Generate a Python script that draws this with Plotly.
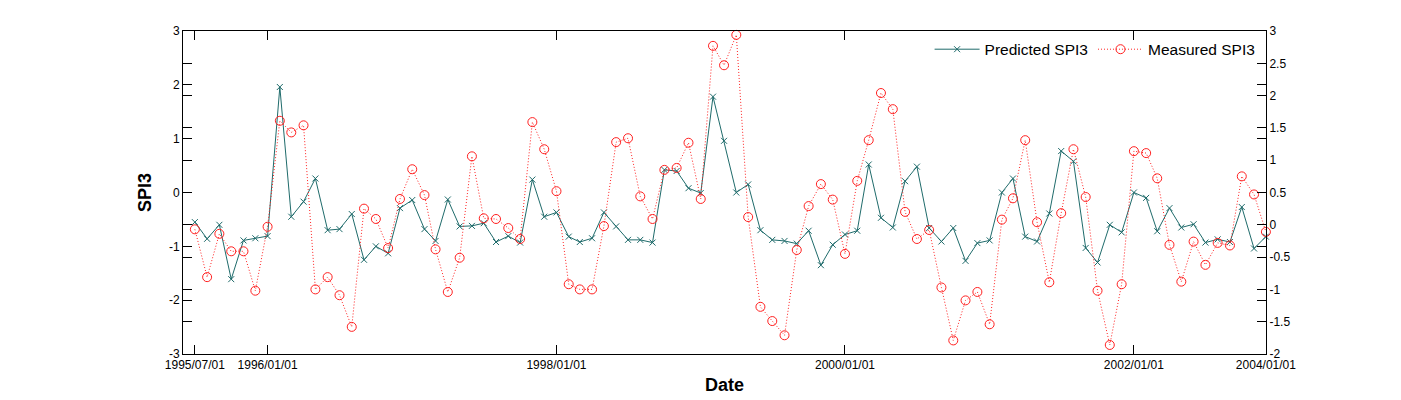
import pandas as pd
import plotly.graph_objects as go

# Monthly dates (category axis)
dates = pd.date_range("1995-07-01", periods=90, freq="MS")

predicted_spi3 = [
    -0.55, -0.86, -0.60, -1.61, -0.89, -0.85, -0.81, 1.96, -0.45, -0.17,
    0.26, -0.70, -0.68, -0.40, -1.25, -1.00, -1.13, -0.29, -0.14, -0.68,
    -0.90, -0.13, -0.63, -0.62, -0.57, -0.92, -0.81, -0.93, 0.24, -0.45,
    -0.37, -0.82, -0.92, -0.85, -0.37, -0.63, -0.88, -0.88, -0.93, 0.42,
    0.40, 0.08, -0.01, 1.78, 0.96, 0.00, 0.15, -0.70, -0.88, -0.90,
    -0.95, -0.71, -1.35, -0.97, -0.78, -0.71, 0.52, -0.47, -0.65, 0.21,
    0.48, -0.66, -0.91, -0.66, -1.27, -0.94, -0.89, 0.00, 0.26, -0.82,
    -0.91, -0.39, 0.77, 0.58, -1.03, -1.30, -0.60, -0.74, 0.00, -0.10,
    -0.72, -0.29, -0.65, -0.59, -0.93, -0.87, -0.92, -0.27, -1.04, -0.82,
]

measured_spi3 = [
    -0.07, -0.81, -0.14, -0.41, -0.41, -1.02, -0.03, 1.61, 1.43, 1.54,
    -1.00, -0.81, -1.09, -1.58, 0.25, 0.09, -0.36, 0.40, 0.86, 0.46,
    -0.38, -1.04, -0.51, 1.06, 0.10, 0.09, -0.05, -0.22, 1.59, 1.17,
    0.52, -0.92, -1.00, -1.00, -0.02, 1.28, 1.34, 0.44, 0.09, 0.85,
    0.88, 1.27, 0.40, 2.77, 2.47, 2.94, 0.12, -1.27, -1.49, -1.71,
    -0.39, 0.29, 0.63, 0.39, -0.45, 0.68, 1.31, 2.04, 1.79, 0.20,
    -0.22, -0.08, -0.97, -1.79, -1.17, -1.04, -1.54, 0.08, 0.41, 1.31,
    0.04, -0.89, 0.18, 1.17, 0.43, -1.02, -1.86, -0.92, 1.14, 1.11,
    0.72, -0.31, -0.88, -0.26, -0.62, -0.28, -0.32, 0.75, 0.47, -0.11,
]

x_tick_vals = ["1995-07-01", "1996-01-01", "1998-01-01", "2000-01-01", "2002-01-01", "2002-12-01"]
x_tick_text = ["1995/07/01", "1996/01/01", "1998/01/01", "2000/01/01", "2002/01/01", "2004/01/01"]

y1_tick_vals = [-3, -2, -1, 0, 1, 2, 3]
y1_tick_text = ["-3", "-2", "-1", "0", "1", "2", "3"]
y2_tick_vals = [-2, -1.5, -1, -0.5, 0, 0.5, 1, 1.5, 2, 2.5, 3]
y2_tick_text = ["-2", "-1.5", "-1", "-0.5", "0", "0.5", "1", "1.5", "2", "2.5", "3"]

FONT = "Liberation Sans, Arial, sans-serif"
TEAL = "#1f6b6b"
RED = "#ff2020"

fig = go.Figure()
fig.add_trace(go.Scatter(
    x=dates, y=predicted_spi3, name="Predicted SPI3", mode="lines+markers",
    line=dict(color=TEAL, width=1),
    marker=dict(symbol="x-thin-open", size=6, line=dict(color=TEAL, width=1), color=TEAL),
    cliponaxis=False, yaxis="y",
))
fig.add_trace(go.Scatter(
    x=dates, y=measured_spi3, name="Measured SPI3", mode="lines+markers",
    line=dict(color=RED, width=1, dash="1px,2px"),
    marker=dict(symbol="circle-open", size=9, line=dict(color=RED, width=1), color=RED),
    cliponaxis=False, yaxis="y2",
))

axis_common = dict(
    showline=True, linecolor="black", linewidth=1, mirror="ticks",
    ticks="inside", ticklen=9, tickcolor="black", tickwidth=1,
    showgrid=False, zeroline=False,
    tickfont=dict(family=FONT, size=12, color="black"),
)

fig.update_layout(
    width=1401, height=400,
    margin=dict(l=183, r=135, t=31, b=46, autoexpand=False),
    paper_bgcolor="white", plot_bgcolor="white",
    font=dict(family=FONT, color="black"),
    showlegend=True,
    legend=dict(
        orientation="h", x=0.995, xanchor="right", y=0.995, yanchor="top",
        bgcolor="rgba(255,255,255,0)", borderwidth=0,
        font=dict(family=FONT, size=15.5, color="black"),
        itemwidth=45,
    ),
    xaxis=dict(
        **axis_common,
        type="date",
        range=["1995-06-01", "2002-12-01 06:00"],
        tickmode="array", tickvals=x_tick_vals, ticktext=x_tick_text,
        title=dict(text="Date", font=dict(family=FONT, size=18, weight="bold"), standoff=6),
    ),
    yaxis=dict(
        **axis_common,
        range=[-3, 3],
        tickmode="array", tickvals=y1_tick_vals, ticktext=y1_tick_text,
        title=dict(text="SPI3", font=dict(family=FONT, size=18, weight="bold"), standoff=12),
    ),
    yaxis2=dict(
        **axis_common,
        overlaying="y", side="right",
        range=[-2, 3],
        tickmode="array", tickvals=y2_tick_vals, ticktext=y2_tick_text,
    ),
)

fig.write_html("out.html")
